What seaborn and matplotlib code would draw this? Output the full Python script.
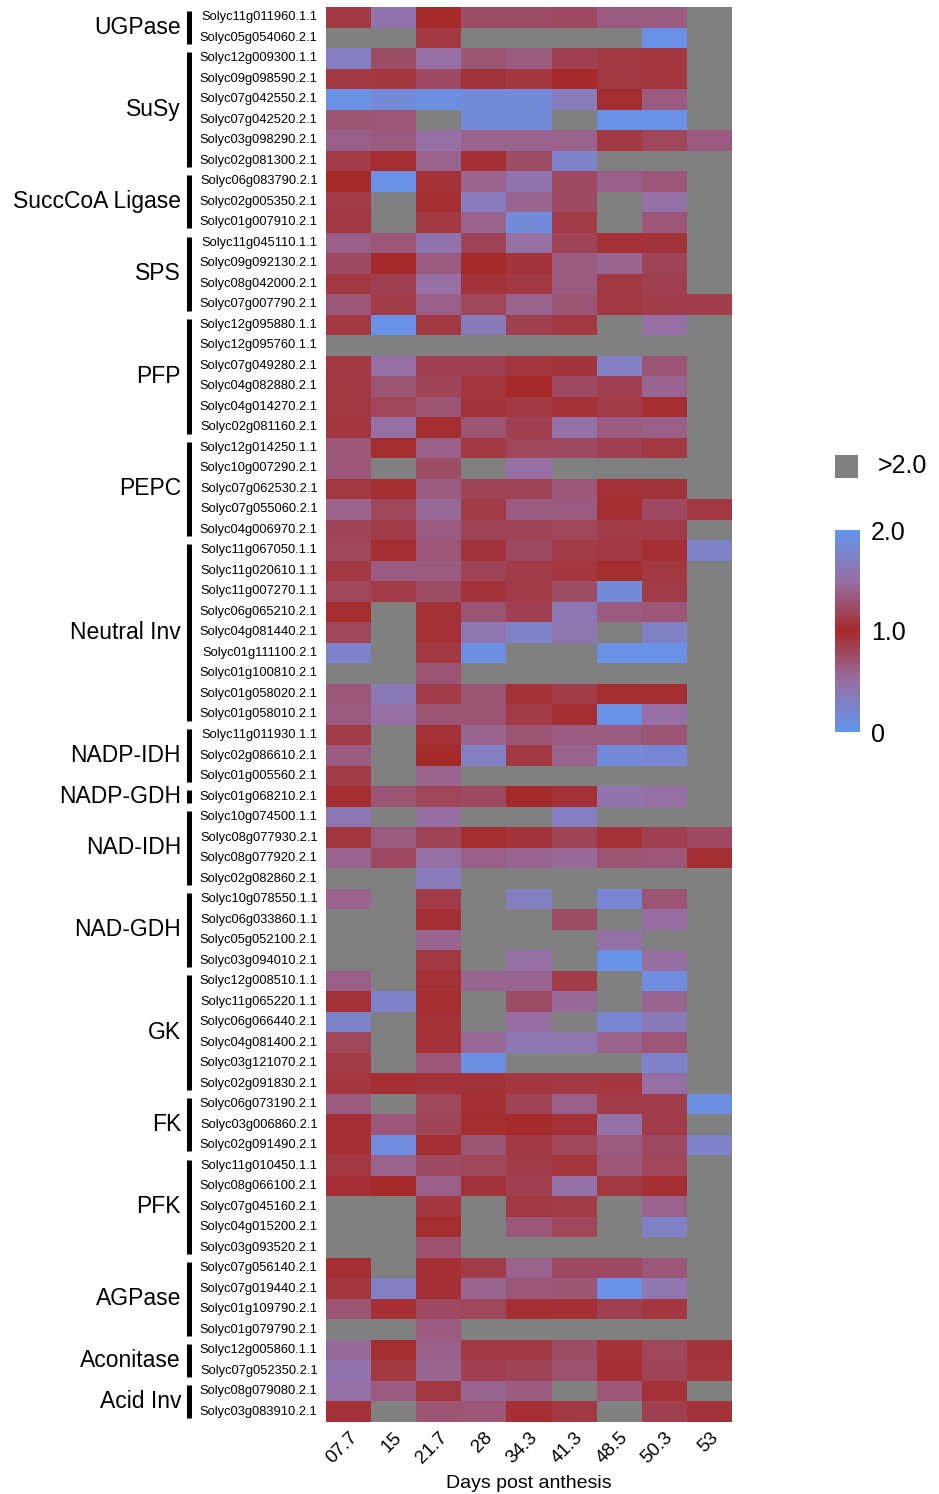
import numpy as np
import pandas as pd
import seaborn as sns
import matplotlib.pyplot as plt
from matplotlib.colors import LinearSegmentedColormap
from matplotlib.patches import Rectangle

# columns: days post anthesis
days = ['07.7', '15', '21.7', '28', '34.3', '41.3', '48.5', '50.3', '53']

# enzyme groups and how many genes each has (top to bottom)
groups = ['UGPase', 'SuSy', 'SuccCoA Ligase', 'SPS', 'PFP', 'PEPC', 'Neutral Inv',
          'NADP-IDH', 'NADP-GDH', 'NAD-IDH', 'NAD-GDH', 'GK', 'FK', 'PFK',
          'AGPase', 'Aconitase', 'Acid Inv']
group_sizes = [2, 6, 3, 4, 6, 5, 9, 3, 1, 4, 4, 6, 3, 5, 4, 2, 2]

genes = [
    'Solyc11g011960.1.1', 'Solyc05g054060.2.1',
    'Solyc12g009300.1.1', 'Solyc09g098590.2.1', 'Solyc07g042550.2.1',
    'Solyc07g042520.2.1', 'Solyc03g098290.2.1', 'Solyc02g081300.2.1',
    'Solyc06g083790.2.1', 'Solyc02g005350.2.1', 'Solyc01g007910.2.1',
    'Solyc11g045110.1.1', 'Solyc09g092130.2.1', 'Solyc08g042000.2.1', 'Solyc07g007790.2.1',
    'Solyc12g095880.1.1', 'Solyc12g095760.1.1', 'Solyc07g049280.2.1',
    'Solyc04g082880.2.1', 'Solyc04g014270.2.1', 'Solyc02g081160.2.1',
    'Solyc12g014250.1.1', 'Solyc10g007290.2.1', 'Solyc07g062530.2.1',
    'Solyc07g055060.2.1', 'Solyc04g006970.2.1',
    'Solyc11g067050.1.1', 'Solyc11g020610.1.1', 'Solyc11g007270.1.1',
    'Solyc06g065210.2.1', 'Solyc04g081440.2.1', 'Solyc01g111100.2.1',
    'Solyc01g100810.2.1', 'Solyc01g058020.2.1', 'Solyc01g058010.2.1',
    'Solyc11g011930.1.1', 'Solyc02g086610.2.1', 'Solyc01g005560.2.1',
    'Solyc01g068210.2.1',
    'Solyc10g074500.1.1', 'Solyc08g077930.2.1', 'Solyc08g077920.2.1', 'Solyc02g082860.2.1',
    'Solyc10g078550.1.1', 'Solyc06g033860.1.1', 'Solyc05g052100.2.1', 'Solyc03g094010.2.1',
    'Solyc12g008510.1.1', 'Solyc11g065220.1.1', 'Solyc06g066440.2.1',
    'Solyc04g081400.2.1', 'Solyc03g121070.2.1', 'Solyc02g091830.2.1',
    'Solyc06g073190.2.1', 'Solyc03g006860.2.1', 'Solyc02g091490.2.1',
    'Solyc11g010450.1.1', 'Solyc08g066100.2.1', 'Solyc07g045160.2.1',
    'Solyc04g015200.2.1', 'Solyc03g093520.2.1',
    'Solyc07g056140.2.1', 'Solyc07g019440.2.1', 'Solyc01g109790.2.1', 'Solyc01g079790.2.1',
    'Solyc12g005860.1.1', 'Solyc07g052350.2.1',
    'Solyc08g079080.2.1', 'Solyc03g083910.2.1',
]

G = 2.5  # anything above 2.0 -> drawn grey

# expression ratio, one row per gene, one column per day
ratio = [
    [0.90, 0.45, 1.00, 0.75, 0.75, 0.78, 0.65, 0.65, G],
    [G, G, 0.90, G, G, G, G, 0.05, G],
    [0.30, 0.75, 0.50, 0.70, 0.65, 0.85, 0.90, 0.92, G],
    [0.90, 0.92, 0.78, 0.93, 0.92, 1.00, 0.90, 0.92, G],
    [0.05, 0.15, 0.10, 0.15, 0.15, 0.35, 0.98, 0.65, G],
    [0.70, 0.68, G, 0.15, 0.15, G, 0.05, 0.05, G],
    [0.62, 0.65, 0.50, 0.60, 0.60, 0.60, 0.90, 0.80, 0.65],
    [0.88, 0.97, 0.60, 0.96, 0.75, 0.25, G, G, G],
    [1.00, 0.05, 0.95, 0.60, 0.45, 0.78, 0.62, 0.68, G],
    [0.88, G, 0.97, 0.35, 0.58, 0.78, G, 0.48, G],
    [0.90, G, 0.90, 0.60, 0.15, 0.88, G, 0.68, G],
    [0.62, 0.68, 0.45, 0.82, 0.50, 0.82, 0.95, 0.93, G],
    [0.78, 1.00, 0.65, 1.00, 0.93, 0.65, 0.58, 0.82, G],
    [0.90, 0.85, 0.50, 0.93, 0.90, 0.65, 0.90, 0.85, G],
    [0.68, 0.88, 0.62, 0.80, 0.60, 0.70, 0.90, 0.87, 0.87],
    [0.90, 0.05, 0.90, 0.38, 0.85, 0.90, G, 0.50, G],
    [G, G, G, G, G, G, G, G, G],
    [0.90, 0.50, 0.85, 0.85, 0.92, 0.93, 0.30, 0.70, G],
    [0.90, 0.70, 0.82, 0.92, 1.00, 0.78, 0.85, 0.58, G],
    [0.90, 0.80, 0.70, 0.93, 0.90, 0.95, 0.88, 0.98, G],
    [0.92, 0.50, 0.98, 0.70, 0.85, 0.48, 0.65, 0.62, G],
    [0.68, 0.98, 0.62, 0.90, 0.80, 0.78, 0.85, 0.90, G],
    [0.68, G, 0.75, G, 0.50, G, G, G, G],
    [0.90, 0.98, 0.65, 0.82, 0.82, 0.68, 0.95, 0.93, G],
    [0.60, 0.80, 0.55, 0.88, 0.65, 0.65, 0.97, 0.78, 0.90],
    [0.82, 0.88, 0.65, 0.82, 0.82, 0.80, 0.88, 0.88, G],
    [0.80, 0.97, 0.68, 0.93, 0.78, 0.88, 0.90, 0.96, 0.25],
    [0.90, 0.65, 0.65, 0.82, 0.88, 0.92, 0.98, 0.90, G],
    [0.80, 0.88, 0.75, 0.93, 0.88, 0.75, 0.15, 0.88, G],
    [0.98, G, 0.95, 0.70, 0.85, 0.40, 0.65, 0.68, G],
    [0.80, G, 0.95, 0.42, 0.25, 0.42, G, 0.28, G],
    [0.25, G, 0.90, 0.08, G, G, 0.05, 0.05, G],
    [G, G, 0.70, G, G, G, G, G, G],
    [0.68, 0.38, 0.88, 0.70, 0.95, 0.88, 0.98, 0.97, G],
    [0.65, 0.50, 0.70, 0.70, 0.88, 0.97, 0.05, 0.50, G],
    [0.88, G, 0.95, 0.58, 0.70, 0.65, 0.65, 0.70, G],
    [0.65, G, 1.00, 0.30, 0.90, 0.60, 0.15, 0.20, G],
    [0.88, G, 0.60, G, G, G, G, G, G],
    [0.97, 0.70, 0.80, 0.78, 1.00, 0.95, 0.45, 0.50, G],
    [0.40, G, 0.52, G, G, 0.32, G, G, G],
    [0.92, 0.65, 0.82, 0.98, 0.93, 0.82, 0.95, 0.85, 0.78],
    [0.58, 0.78, 0.50, 0.62, 0.58, 0.55, 0.70, 0.68, 0.97],
    [G, G, 0.35, G, G, G, G, G, G],
    [0.60, G, 0.88, G, 0.32, G, 0.20, 0.70, G],
    [G, G, 0.96, G, G, 0.75, G, 0.52, G],
    [G, G, 0.58, G, G, G, 0.48, G, G],
    [G, G, 0.90, G, 0.50, G, 0.05, 0.52, G],
    [0.62, G, 0.95, 0.58, 0.58, 0.88, G, 0.12, G],
    [0.95, 0.25, 0.98, G, 0.75, 0.55, G, 0.58, G],
    [0.25, G, 0.95, G, 0.52, G, 0.20, 0.38, G],
    [0.80, G, 0.95, 0.55, 0.40, 0.42, 0.60, 0.68, G],
    [0.88, G, 0.68, 0.08, G, G, G, 0.25, G],
    [0.92, 0.97, 0.93, 0.93, 0.92, 0.90, 0.92, 0.50, G],
    [0.65, G, 0.80, 0.96, 0.82, 0.62, 0.88, 0.87, 0.08],
    [0.96, 0.68, 0.82, 0.98, 1.00, 0.95, 0.48, 0.88, G],
    [0.96, 0.12, 0.96, 0.70, 0.90, 0.80, 0.65, 0.78, 0.25],
    [0.90, 0.60, 0.78, 0.80, 0.88, 0.92, 0.68, 0.80, G],
    [0.96, 1.00, 0.62, 0.93, 0.85, 0.48, 0.90, 0.97, G],
    [G, G, 0.92, G, 0.90, 0.88, G, 0.60, G],
    [G, G, 0.98, G, 0.68, 0.80, G, 0.28, G],
    [G, G, 0.72, G, G, G, G, G, G],
    [0.97, G, 0.96, 0.88, 0.60, 0.78, 0.78, 0.68, G],
    [0.92, 0.30, 0.96, 0.58, 0.68, 0.70, 0.05, 0.42, G],
    [0.70, 0.96, 0.78, 0.80, 0.97, 0.96, 0.85, 0.92, G],
    [G, G, 0.65, G, G, G, G, G, G],
    [0.55, 0.98, 0.62, 0.90, 0.90, 0.75, 0.95, 0.80, 0.93],
    [0.45, 0.90, 0.58, 0.85, 0.82, 0.72, 0.96, 0.82, 0.92],
    [0.48, 0.65, 0.90, 0.58, 0.65, G, 0.68, 0.95, G],
    [0.95, G, 0.70, 0.68, 0.96, 0.90, G, 0.85, 0.93],
]

df = pd.DataFrame(ratio, index=genes, columns=days)

plt.rcParams['font.family'] = ['Liberation Sans', 'DejaVu Sans']

cmap = LinearSegmentedColormap.from_list(
    'blue_red_blue',
    [(0, '#6495ED'), (0.25, '#9670A5'), (0.5, '#A52A2A'), (0.75, '#9670A5'), (1, '#6495ED')])
cmap.set_over('#808080')

W, H = 939, 1494
fig = plt.figure(figsize=(W / 100, H / 100), dpi=100)
ax = fig.add_axes([326 / W, 1 - 1422 / H, 406 / W, 1415 / H])
cax = fig.add_axes([835 / W, 1 - 732 / H, 25 / W, 202 / H])

sns.heatmap(df, ax=ax, cmap=cmap, vmin=0, vmax=2, cbar_ax=cax,
            cbar_kws={'ticks': [0, 1, 2]}, xticklabels=True, yticklabels=True)

ax.tick_params(axis='both', length=0)
ax.tick_params(axis='y', pad=6, labelsize=9.3)
ax.tick_params(axis='x', pad=5, labelsize=13.5)
ax.set_yticklabels(genes, rotation=0)
ax.set_xticklabels(days, rotation=45, ha='right', rotation_mode='anchor')
ax.set_xlabel('Days post anthesis', fontsize=14, labelpad=6)
ax.set_ylabel('')

# group brackets and names
trans = ax.get_yaxis_transform()
start = 0
for name, n in zip(groups, group_sizes):
    ax.plot([-0.337, -0.337], [start + 0.2, start + n - 0.2], color='black',
            lw=3.6, solid_capstyle='butt', transform=trans, clip_on=False)
    ax.text(-0.357, start + n / 2, name, transform=trans, ha='right', va='center',
            fontsize=16.5)
    start += n

# colour bar
cbar = ax.collections[0].colorbar
cbar.outline.set_visible(False)
cbar.ax.tick_params(length=0, pad=8, labelsize=18)
cbar.ax.set_yticklabels(['0', '1.0', '2.0'])

# grey ">2.0" key
fig.patches.append(Rectangle((835 / W, 1 - 478 / H), 23 / W, 23 / H,
                             transform=fig.transFigure, facecolor='#808080', edgecolor='none'))
fig.text(878 / W, 1 - 466 / H, '>2.0', ha='left', va='center', fontsize=18)

fig.savefig('out.png', dpi=100)
